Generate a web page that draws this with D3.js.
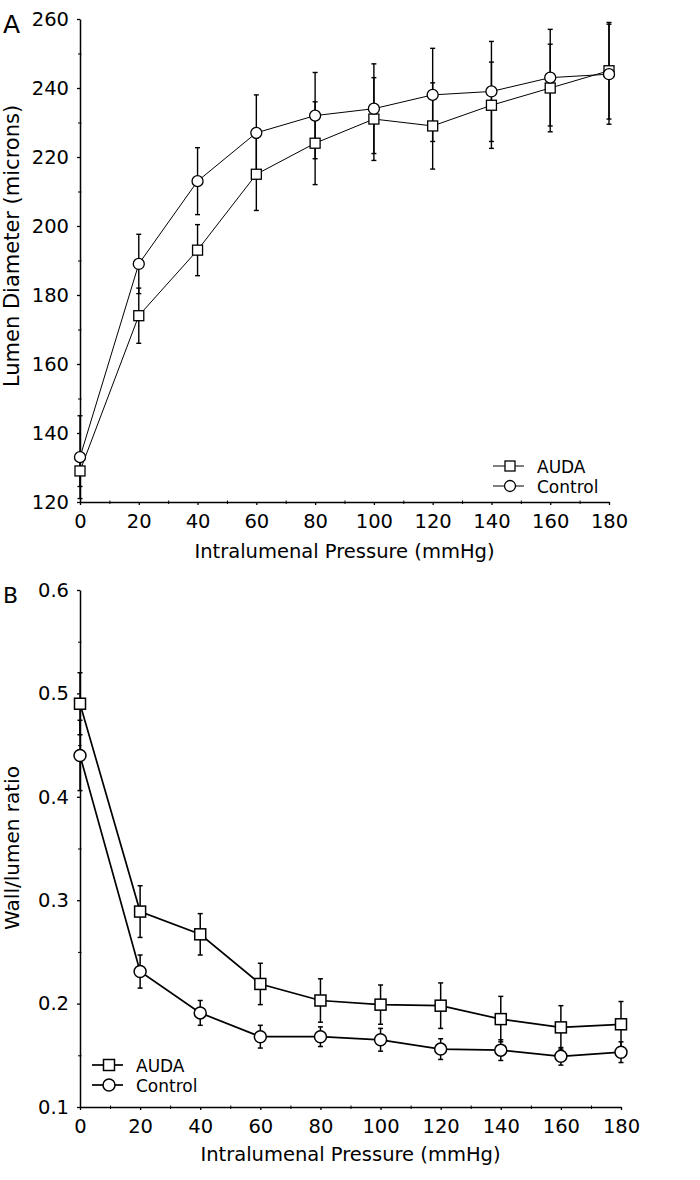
<!DOCTYPE html>
<html>
<head>
<meta charset="utf-8">
<script src="https://cdn.jsdelivr.net/npm/d3@7"></script>
<style>
  html, body { margin: 0; padding: 0; background: #fff; }
  svg { display: block; font-family: "DejaVu Sans", Arial, Helvetica, sans-serif; }
</style>
</head>
<body>
<svg id="chart" width="700" height="1180"></svg>
<script>
// ---- Data ----
const pressure = [0, 20, 40, 60, 80, 100, 120, 140, 160, 180];
const seriesNames = ["AUDA", "Control"];

const diamAUDA = [129, 174, 193, 215, 224, 231, 229, 235, 240, 245];
const diamAUDAErr = [4.5, 8, 7.4, 10.5, 12, 12, 12.5, 12.5, 12.7, 14];
const diamControl = [133, 189, 213, 227, 232, 234, 238, 239, 243, 244];
const diamControlErr = [12, 8.6, 9.7, 11, 12.5, 13, 13.5, 14.5, 14, 14.5];

const ratioAUDA = [0.49, 0.289, 0.267, 0.219, 0.203, 0.199, 0.198, 0.185, 0.177, 0.180];
const ratioAUDAErr = [0.03, 0.025, 0.02, 0.02, 0.021, 0.019, 0.022, 0.022, 0.021, 0.022];
const ratioControl = [0.44, 0.231, 0.191, 0.168, 0.168, 0.165, 0.156, 0.155, 0.149, 0.153];
const ratioControlErr = [0.034, 0.016, 0.012, 0.011, 0.0095, 0.011, 0.01, 0.01, 0.0085, 0.01];

const xTicks = [0, 20, 40, 60, 80, 100, 120, 140, 160, 180];
const yTicksA = [120, 140, 160, 180, 200, 220, 240, 260];
const yTicksB = [0.1, 0.2, 0.3, 0.4, 0.5, 0.6];

const svg = d3.select("#chart");
const FONT = 19.5;
const LEG_FONT = 17;
const FAMILY = '"DejaVu Sans", Arial, Helvetica, sans-serif';

function drawPanel(cfg) {
  const x = d3.scaleLinear().domain([0, 180]).range([cfg.left, cfg.right]);
  const y = d3.scaleLinear().domain(cfg.yDomain).range([cfg.bottom, cfg.top]);
  const g = svg.append("g");

  // minor ticks
  const xMinor = d3.range(10, 180, 20);
  g.append("g").attr("transform", `translate(0,${cfg.bottom})`)
    .call(d3.axisBottom(x).tickValues(xMinor).tickSize(2).tickFormat(""))
    .call(s => s.select(".domain").remove())
    .call(s => s.selectAll("line").attr("stroke-width", 1).attr("y1", -1.5));
  g.append("g").attr("transform", `translate(${cfg.left},0)`)
    .call(d3.axisLeft(y).tickValues(cfg.yMinor).tickSize(2).tickFormat(""))
    .call(s => s.select(".domain").remove())
    .call(s => s.selectAll("line").attr("stroke-width", 1).attr("x1", 1.5));

  // major axes
  const xa = g.append("g").attr("transform", `translate(0,${cfg.bottom})`)
    .call(d3.axisBottom(x).tickValues(xTicks).tickSize(3).tickSizeOuter(0).tickPadding(9).tickFormat(d3.format("d")));
  const ya = g.append("g").attr("transform", `translate(${cfg.left},0)`)
    .call(d3.axisLeft(y).tickValues(cfg.yTicks).tickSize(3).tickSizeOuter(0).tickPadding(8).tickFormat(cfg.yFormat));
  [xa, ya].forEach(a => {
    a.selectAll("text").attr("font-size", FONT).attr("fill", "#000").attr("font-family", FAMILY);
    a.selectAll("line").attr("stroke", "#000").attr("stroke-width", 1.3);
    a.select(".domain").attr("stroke", "#000").attr("stroke-width", 1.5);
  });

  // titles
  g.append("text").attr("x", (cfg.left + cfg.right) / 2).attr("y", cfg.xTitleY)
    .attr("text-anchor", "middle").attr("font-size", FONT).text("Intralumenal Pressure (mmHg)");
  g.append("text").attr("transform", `translate(${cfg.yTitleX},${cfg.yTitleCY}) rotate(-90)`)
    .attr("text-anchor", "middle").attr("font-size", cfg.yTitleSize).text(cfg.yTitle);
  g.append("text").attr("x", 3).attr("y", cfg.letterY).attr("font-size", cfg.letterSize).text(cfg.letter);

  const series = [
    { name: seriesNames[0], vals: cfg.aVals, errs: cfg.aErr, shape: "square" },
    { name: seriesNames[1], vals: cfg.cVals, errs: cfg.cErr, shape: "circle" }
  ];

  // error bars
  const cap = 2.5;
  series.forEach(s => {
    const eg = g.append("g").attr("stroke", "#000").attr("stroke-width", cfg.errW);
    pressure.forEach((p, i) => {
      const cx = x(p), hi = y(s.vals[i] + s.errs[i]), lo = y(s.vals[i] - s.errs[i]);
      eg.append("line").attr("x1", cx).attr("x2", cx).attr("y1", hi).attr("y2", lo);
      eg.append("line").attr("x1", cx - cap).attr("x2", cx + cap).attr("y1", hi).attr("y2", hi);
      eg.append("line").attr("x1", cx - cap).attr("x2", cx + cap).attr("y1", lo).attr("y2", lo);
    });
  });

  // lines
  const line = d3.line().x((d, i) => x(pressure[i])).y(d => y(d));
  series.forEach(s => {
    g.append("path").datum(s.vals).attr("d", line)
      .attr("fill", "none").attr("stroke", "#000").attr("stroke-width", cfg.lineW);
  });

  // markers
  const ms = cfg.markerSize;
  function marker(sel, shape, cx, cy) {
    if (shape === "square") {
      sel.append("rect").attr("x", cx - ms / 2).attr("y", cy - ms / 2).attr("width", ms).attr("height", ms)
        .attr("fill", "#fff").attr("stroke", "#000").attr("stroke-width", cfg.markW);
    } else {
      sel.append("circle").attr("cx", cx).attr("cy", cy).attr("r", ms / 2 + 0.5)
        .attr("fill", "#fff").attr("stroke", "#000").attr("stroke-width", cfg.markW);
    }
  }
  series.forEach(s => {
    pressure.forEach((p, i) => marker(g, s.shape, x(p), y(s.vals[i])));
  });

  // legend
  series.forEach((s, k) => {
    const ly = cfg.legY[k];
    g.append("line").attr("x1", cfg.legX0).attr("x2", cfg.legX0 + 31).attr("y1", ly).attr("y2", ly)
      .attr("stroke", "#000").attr("stroke-width", cfg.lineW);
    marker(g, s.shape, cfg.legX0 + 17, ly);
    g.append("text").attr("x", cfg.legX0 + 44).attr("y", ly + 6.5)
      .attr("font-size", LEG_FONT).text(s.name);
  });
}

drawPanel({
  left: 80, right: 609, top: 19, bottom: 502,
  yDomain: [120, 260], yTicks: yTicksA, yMinor: d3.range(130, 260, 20), yFormat: d3.format("d"),
  xTitleY: 558, yTitleX: 19, yTitleCY: 246, yTitleSize: 21, yTitle: "Lumen Diameter (microns)",
  letter: "A", letterY: 33, letterSize: 25,
  aVals: diamAUDA, aErr: diamAUDAErr, cVals: diamControl, cErr: diamControlErr,
  lineW: 1, errW: 1.4, markW: 1.3, markerSize: 10,
  legX0: 493, legY: [466, 486]
});

drawPanel({
  left: 80, right: 621, top: 590, bottom: 1107,
  yDomain: [0.1, 0.6], yTicks: yTicksB, yMinor: d3.range(0.15, 0.6, 0.1), yFormat: d3.format(".1f"),
  xTitleY: 1161, yTitleX: 19, yTitleCY: 848, yTitleSize: 20, yTitle: "Wall/lumen ratio",
  letter: "B", letterY: 603, letterSize: 22,
  aVals: ratioAUDA, aErr: ratioAUDAErr, cVals: ratioControl, cErr: ratioControlErr,
  lineW: 1.7, errW: 1.5, markW: 1.5, markerSize: 11,
  legX0: 92, legY: [1065, 1085]
});
</script>
</body>
</html>
